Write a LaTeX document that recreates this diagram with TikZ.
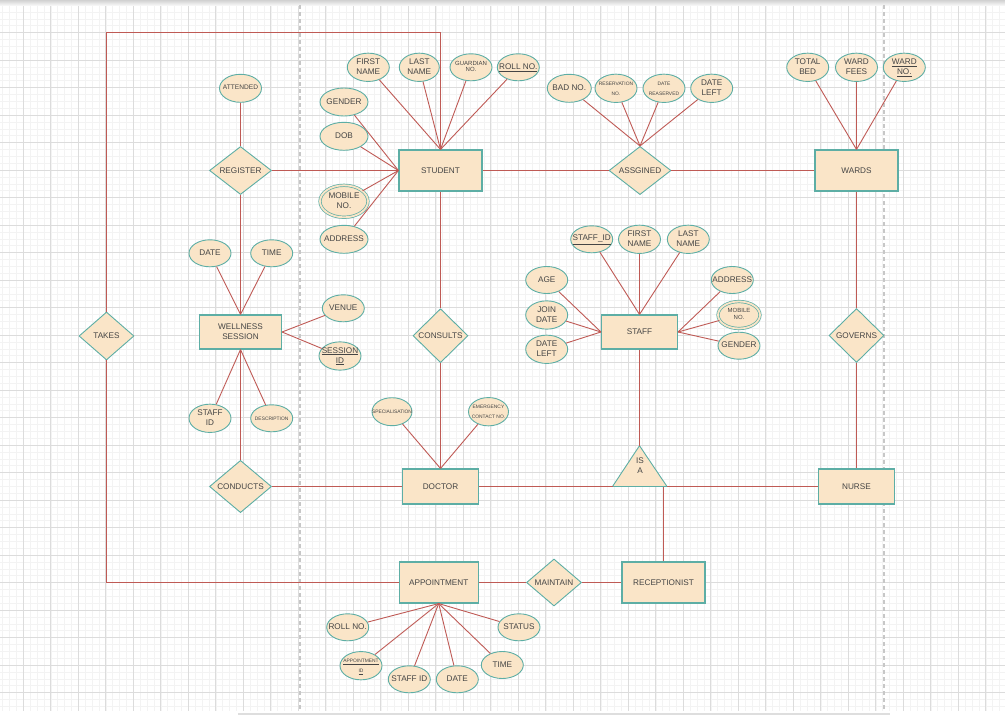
\documentclass[tikz,border=0pt]{standalone}
\usepackage{fontspec}
\setmainfont{Liberation Sans}
\usepackage{tikz}
\usetikzlibrary{shapes,positioning}
\definecolor{erfill}{HTML}{FAE5C8}
\definecolor{erteal}{HTML}{5DAEA5}
\definecolor{erlink}{HTML}{BF5A55}
\definecolor{ertext}{HTML}{454545}
\definecolor{grmaj}{HTML}{DCDCDC}
\definecolor{grmin}{HTML}{F3F3F3}
\newcommand{\erfont}{\fontsize{8.2}{10}\selectfont}
\newcommand{\ersmall}{\fontsize{6}{6.7}\selectfont}
\newcommand{\ermid}{\fontsize{6.6}{8}\selectfont}
\newcommand{\ertiny}{\fontsize{4.9}{10}\selectfont}
\tikzstyle{aL}=[every edge/.style={draw=erlink,line width=0.9pt}]
\tikzstyle{Alink}=[draw=erlink,line width=1pt]
\tikzstyle{Aent}=[draw=erteal,fill=erfill,line width=1.1pt,inner sep=0,align=center,
               text=ertext,font=\erfont,minimum width=83pt,minimum height=41pt]
\tikzstyle{Arel}=[diamond,draw=erteal,fill=erfill,line width=0.9pt,inner sep=0,align=center,
               text=ertext,font=\erfont,minimum width=62pt,minimum height=48pt]
\tikzstyle{Aatt}=[ellipse,draw=erteal,fill=erfill,line width=0.9pt,inner sep=0,
               text=ertext,font=\erfont,minimum width=42pt,minimum height=27pt]
\tikzstyle{Amv}=[double=erfill,double distance=1.8pt,line width=0.7pt]
\tikzstyle{gmin}=[draw=grmin,line width=0.5pt]
\tikzstyle{gmaj}=[draw=grmaj,line width=0.7pt]
\newcommand{\attl}[5]{\node[Aatt,#1] (#2) at (#3)
   {\makebox[0pt]{\begin{tabular}{@{}c@{}}#4\end{tabular}}};\path (#2) edge (#5);}

\begin{document}
\begin{tikzpicture}[aL,x=1pt,y=-1pt]
  \useasboundingbox (0,0) rectangle (1005,715);
  \fill[white] (0,0) rectangle (1005,715);
  % grid
  \foreach \i in {0,...,146} \draw[gmin] ({-4.2+6.875*\i},5) -- ++(0,706);
  \foreach \i in {0,...,102} \draw[gmin] (0,{5+6.875*\i}) -- ++(1005,0);
  \foreach \i in {0,...,35} \draw[gmaj] ({23.3+27.5*\i},5) -- ++(0,706);
  \foreach \i in {0,...,25} \draw[gmaj] (0,{5+27.5*\i}) -- ++(1005,0);
  \shade[top color=black!18,bottom color=black!4] (0,0) rectangle (1005,5);
  \draw[black!22,line width=1.3pt,dash pattern=on 4pt off 3pt] (300,5) -- (300,711) (884,5) -- (884,711);
  \draw[black!13,line width=1.5pt] (238,714) -- (890,714);

  % entities
  \node[Aent] (st) at (440.5,170.5) {STUDENT};
  \node[Aent] (wd) at (856.5,170.5) {WARDS};
  \node[Aent,minimum width=76pt,minimum height=34pt] (sf) at (639.5,332) {STAFF};
  \node[Aent,minimum width=82pt,minimum height=34pt] (ws) at (240.5,332) {WELLNESS\\SESSION};
  \node[Aent,minimum width=76pt,minimum height=35pt] (dc) at (440.5,486.5) {DOCTOR};
  \node[Aent,minimum width=76pt,minimum height=35pt] (nr) at (856.5,486.5) {NURSE};
  \node[Aent,minimum width=79pt] (ap) at (438.7,582.5) {APPOINTMENT};
  \node[Aent] (rc) at (663.5,582.5) {RECEPTIONIST};

  % relationships
  \node[Arel] (rg) at (240.5,170.5) {REGISTER};
  \node[Arel] (as) at (640,170.5) {ASSGINED};
  \node[Arel,minimum width=55pt] (tk) at (106.5,336) {TAKES};
  \node[Arel,minimum width=55pt,minimum height=54pt] (cs) at (440.5,335.7) {CONSULTS};
  \node[Arel,minimum width=55pt,minimum height=54pt] (gv) at (856.5,335.5) {GOVERNS};
  \node[Arel,minimum height=47pt] (cd) at (240.5,486.5) {CONDUCTS};
  \node[Arel,minimum width=55pt,minimum height=47pt] (mt) at (554,582.5) {MAINTAIN};

  % is a
  \coordinate (isat) at (639.5,445.7);
  \coordinate (isal) at (612.5,486.5);
  \coordinate (isar) at (667,486.5);
  \coordinate (isaj) at (663.5,486.5);
  \draw[draw=erteal,fill=erfill,line width=0.9pt] (isal) -- (isat) -- (isar) -- cycle;
  \node[text=ertext,font=\erfont,align=center,inner sep=0] (isa) at (640,466) {IS\\A};

  % student
  \attl{}{sfn}{368.3,67.3}{FIRST\\NAME}{st.north}
  \attl{minimum width=40pt}{sln}{419.3,67.3}{LAST\\NAME}{st.north}
  \attl{font=\ersmall}{sgn}{471,67.3}{GUARDIAN\\NO.}{st.north}
  \attl{}{srn}{518.3,67.3}{\underline{ROLL NO.}}{st.north}
  \attl{minimum width=48pt,minimum height=28pt}{sgd}{344,102}{GENDER}{st.west}
  \attl{minimum width=48pt,minimum height=28pt}{sdb}{344,136.3}{DOB}{st.west}
  \attl{Amv,minimum width=48pt,minimum height=32pt}{smb}{344,201.3}{MOBILE\\NO.}{st.west}
  \attl{minimum width=48pt,minimum height=28pt}{sad}{344,239.3}{ADDRESS}{st.west}

  % register
  \attl{font=\ermid,minimum height=28pt}{rat}{240.5,88.3}{ATTENDED}{rg}

  % assgined and wards
  \attl{minimum width=44pt,minimum height=28pt}{abn}{569.3,88.3}{BAD NO.}{as.north}
  \attl{font=\ertiny,minimum height=28pt}{arn}{616,88.3}{RESERVATION\\NO.}{as.north}
  \attl{font=\ertiny,minimum height=28pt}{adr}{664,88.3}{DATE\\REASERVED}{as.north}
  \attl{minimum height=28pt}{adl}{711.7,88.3}{DATE\\LEFT}{as.north}
  \attl{}{wtb}{807.7,67.3}{TOTAL\\BED}{wd.north}
  \attl{}{wwf}{856.5,67.3}{WARD\\FEES}{wd.north}
  \attl{}{wwn}{904.3,67.3}{\underline{WARD}\\\underline{NO.}}{wd.north}

  % staff
  \attl{}{tid}{591.7,239.3}{\underline{STAFF\_ID}}{sf.north}
  \attl{}{tfn}{639.5,239.3}{FIRST\\NAME}{sf.north}
  \attl{}{tln}{688.3,239.3}{LAST\\NAME}{sf.north}
  \attl{}{tag}{546.7,280}{AGE}{sf.west}
  \attl{}{tjd}{546.7,315}{JOIN\\DATE}{sf.west}
  \attl{}{tdl}{546.7,349.3}{DATE\\LEFT}{sf.west}
  \attl{}{tad}{732.3,280}{ADDRESS}{sf.east}
  \attl{Amv,font=\ersmall}{tmb}{739,315}{MOBILE\\NO.}{sf.east}
  \attl{}{tgd}{739,345.7}{GENDER}{sf.east}

  % wellness session
  \attl{}{wdt}{210,253.3}{DATE}{ws.north}
  \attl{}{wtm}{271.7,253.3}{TIME}{ws.north}
  \attl{}{wvn}{343.3,308.3}{VENUE}{ws.east}
  \attl{}{wsi}{340,356}{\underline{SESSION}\\\underline{ID}}{ws.east}
  \attl{}{wsf}{210,418.3}{STAFF\\ID}{ws.south}
  \attl{font=\ertiny}{wds}{271.7,418.3}{DESCRIPTION}{ws.south}

  % doctor
  \attl{font=\ertiny,minimum width=40pt,minimum height=28pt}{dsp}{392,411.7}{SPECIALISATION}{dc.north}
  \attl{font=\ertiny,minimum width=40pt,minimum height=28pt}{dec}{488.5,411.7}{EMERGENCY\\CONTACT NO.}{dc.north}

  % appointment
  \attl{}{prn}{347.7,627.3}{ROLL NO.}{ap.south}
  \attl{font=\ertiny}{pid}{361,665.7}{\underline{APPOINTMENT}\\\underline{ID}}{ap.south}
  \attl{}{psi}{409.3,679.3}{STAFF ID}{ap.south}
  \attl{}{pdt}{457.3,679.3}{DATE}{ap.south}
  \attl{}{ptm}{502.3,665}{TIME}{ap.south}
  \attl{}{pst}{519,627.3}{STATUS}{ap.south}

  % relationship links
  \path
  (rg.east) edge (st.west)
  (rg.south) edge (ws.north)
  (st.east) edge (as.west)
  (as.east) edge (wd.west)
  (st.south) edge (cs.north)
  (cs.south) edge (dc.north)
  (ws.south) edge (cd.north)
  (cd.east) edge (dc.west)
  (wd.south) edge (gv.north)
  (gv.south) edge (nr.north)
  (sf.south) edge (isat)
  (dc.east) edge (isal)
  (isar) edge (nr.west)
  (isaj) edge (rc.north)
  (ap.east) edge (mt.west)
  (mt.east) edge (rc.west)
  ;
  \coordinate (tkc) at (106.5,32.5);
  \draw[Alink] (st.north) |- (tkc) -- (tk.north);
  \draw[Alink] (tk.south) |- (ap.west);
\end{tikzpicture}
\end{document}
